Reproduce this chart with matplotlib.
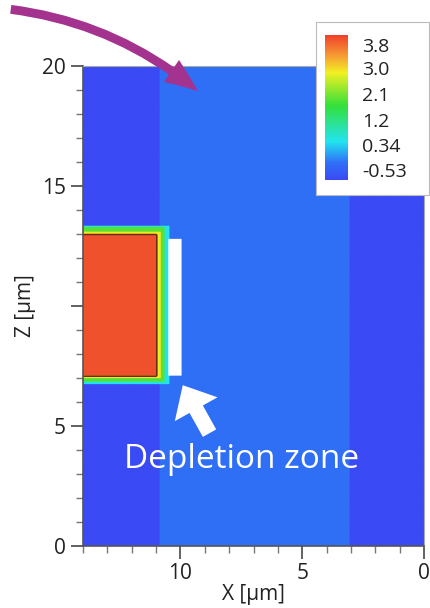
import numpy as np
import matplotlib
matplotlib.use("Agg")
import matplotlib.pyplot as plt
from matplotlib.colors import LinearSegmentedColormap, Normalize
from matplotlib.patches import Rectangle, FancyArrowPatch
from matplotlib.ticker import MultipleLocator

plt.rcParams['font.family'] = ['Open Sans', 'DejaVu Sans']

# colour scale (value at each colour stop)
cbar_ticks = [3.8, 3.0, 2.1, 1.2, 0.34, -0.53]
vmin, vmax = -0.88, 4.15
stop_vals = [-0.88, -0.28, 0.45, 1.7, 2.85, 3.4, 4.15]
stop_cols = ['#3a4af4', '#2f70f7', '#22e4ef', '#34e03a', '#f2f022', '#f5a032', '#f0402c']

# regions of the field: (x0, x1, z0, z1, value), later ones drawn on top
reg_x0 = [0.0, 3.1, 10.86, 10.5, 10.66, 10.82, 11.0, 9.96]
reg_x1 = [3.1, 10.86, 14.0, 14.0, 14.0, 14.0, 14.0, 10.5]
reg_z0 = [0.0, 0.0, 0.0, 6.75, 6.85, 6.97, 7.1, 7.1]
reg_z1 = [20.0, 20.0, 20.0, 13.35, 13.25, 13.1, 12.96, 12.75]
reg_val = [-0.88, -0.28, -0.88, 0.5, 1.9, 2.9, 4.0, np.nan]

xs = np.arange(0, 14.0001, 0.05)
zs = np.arange(0, 20.0001, 0.05)
X, Z = np.meshgrid(xs, zs)
field = np.zeros_like(X)
for x0, x1, z0, z1, v in zip(reg_x0, reg_x1, reg_z0, reg_z1, reg_val):
    field[(X >= x0) & (X <= x1) & (Z >= z0) & (Z <= z1)] = v

cmap = LinearSegmentedColormap.from_list(
    'pot', [((v - vmin) / (vmax - vmin), c) for v, c in zip(stop_vals, stop_cols)])
cmap.set_bad('white')
norm = Normalize(vmin, vmax)
rgba = cmap(norm(np.ma.masked_invalid(field)))

fig = plt.figure(figsize=(4.31, 6.08), dpi=100)
ax = fig.add_axes([0.1926, 0.102, 0.7912, 0.7895])
ax.imshow(rgba, origin='lower', extent=(0, 14, 0, 20), aspect='auto',
          interpolation='bilinear')
ax.contour(X, Z, np.nan_to_num(field, nan=-0.88), levels=[3.4],
           colors='#6a2a18', linewidths=1.1)
ax.set_xlim(14, 0)
ax.set_ylim(0, 20)

ax.xaxis.set_major_locator(MultipleLocator(5))
ax.xaxis.set_minor_locator(MultipleLocator(1))
ax.yaxis.set_major_locator(MultipleLocator(5))
ax.yaxis.set_minor_locator(MultipleLocator(1))
ax.set_yticks([0, 5, 10, 15, 20])
ax.set_yticklabels(['0', '5', '', '15', '20'])
ax.tick_params(which='major', length=9, width=1.3, color='#555555',
               labelsize=15, labelcolor='#222222')
ax.tick_params(which='minor', length=5, width=1.0, color='#777777')
for s in ['left', 'bottom']:
    ax.spines[s].set_color('#555555')
    ax.spines[s].set_linewidth(1.2)
for s in ['top', 'right']:
    ax.spines[s].set_color('#aaaaaa')
    ax.spines[s].set_linewidth(0.8)
ax.set_xlabel('X [µm]', fontsize=15, color='#222222', labelpad=0)
ax.set_ylabel('Z [µm]', fontsize=15, color='#222222', labelpad=4)

ax.text(7.5, 3.6, 'Depletion zone', color='white', fontsize=24,
        ha='center', va='center')
ax.add_patch(FancyArrowPatch((8.75, 4.6), (9.96, 6.8),
                             arrowstyle='simple,head_length=0.9,head_width=1.6,tail_width=0.5',
                             mutation_scale=22, color='white', lw=0))

# colour bar inside a white box
fig.patches.append(Rectangle((316 / 431, 1 - 195 / 608), 113 / 431, 173 / 608,
                             transform=fig.transFigure, facecolor='white',
                             edgecolor='#bbbbbb', lw=0.8, zorder=3))
cax = fig.add_axes([325 / 431, 1 - 180 / 608, 23 / 431, 145 / 608], zorder=4)
sm = plt.cm.ScalarMappable(norm=norm, cmap=cmap)
cb = fig.colorbar(sm, cax=cax, ticks=cbar_ticks)
cb.outline.set_visible(False)
cb.ax.tick_params(length=0, labelsize=14, labelcolor='#222222', pad=10)
cb.ax.set_yticklabels(['3.8', '3.0', '2.1', '1.2', '0.34', '-0.53'])

# purple arrow from the top-left
fig.patches.append(FancyArrowPatch((8 / 431, 1 - 9 / 608), (200 / 431, 1 - 93 / 608),
                                   transform=fig.transFigure,
                                   connectionstyle='arc3,rad=-0.15',
                                   arrowstyle='simple,head_length=1.5,head_width=1.2,tail_width=0.4',
                                   mutation_scale=16, color='#a3338f', lw=0, zorder=5))

fig.savefig('out.png', dpi=100)
